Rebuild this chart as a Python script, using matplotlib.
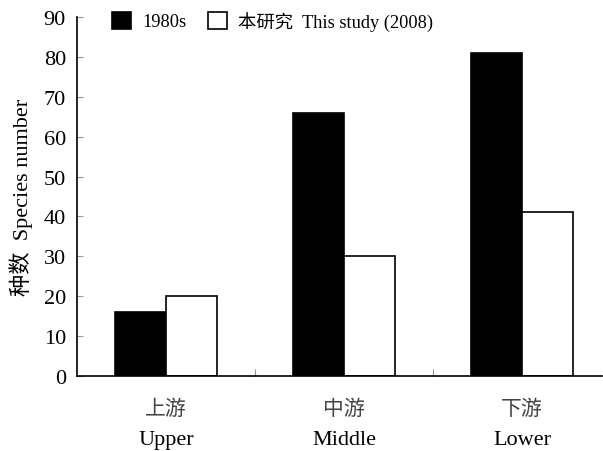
import numpy as np
import matplotlib
matplotlib.use('Agg')
import matplotlib.pyplot as plt
from matplotlib.patches import Patch

plt.rcParams['font.family'] = ['Liberation Serif', 'Noto Sans CJK SC']

# data
regions_cn = ['上游', '中游', '下游']
regions_en = ['Upper', 'Middle', 'Lower']
species_1980s = [16, 66, 81]
species_2008 = [20, 30, 41]
series_names = ['1980s', '本研究  This study (2008)']

fig = plt.figure(figsize=(6.03, 4.52), dpi=100)
W, H = 603, 452
ax = fig.add_axes([77 / W, 1 - 377 / H, (602 - 77) / W, (377 - 18) / H])

x = np.arange(len(regions_cn))
bw = 0.287
ax.bar(x - bw / 2, species_1980s, width=bw, color='black', edgecolor='black', linewidth=1.2)
ax.bar(x + bw / 2, species_2008, width=bw, color='white', edgecolor='black', linewidth=1.2)

ax.set_xlim(-0.5, 2.45)
ax.set_ylim(0, 90)
ax.set_yticks(np.arange(0, 91, 10))
ax.tick_params(axis='y', direction='in', length=4, width=0.8, color='#999999', labelsize=16, pad=8)

# category separators as upward ticks
ax.set_xticks([0.5, 1.5])
ax.set_xticklabels([])
ax.tick_params(axis='x', direction='in', length=5, width=0.8, color='#999999')
for i in x:
    ax.text(i, -8.3, regions_cn[i], ha='center', va='center', fontsize=15, color='#444444')
    ax.text(i, -16.0, regions_en[i], ha='center', va='center', fontsize=16)

for s in ['top', 'right']:
    ax.spines[s].set_visible(False)
ax.spines['left'].set_linewidth(1.2)
ax.spines['bottom'].set_linewidth(1.2)

ax.set_ylabel('种数  Species number', fontsize=16, labelpad=8)

handles = [Patch(facecolor='black', edgecolor='black', linewidth=1.2),
           Patch(facecolor='white', edgecolor='black', linewidth=1.2)]
fig.legend(handles, series_names, loc='upper left', bbox_to_anchor=(97 / W, 1 + 3 / H),
           ncol=2, frameon=False, fontsize=13.2, handlelength=1.05, handleheight=1.05,
           columnspacing=1.2, handletextpad=0.6, borderpad=0.3)

fig.savefig('out.png', dpi=100)
